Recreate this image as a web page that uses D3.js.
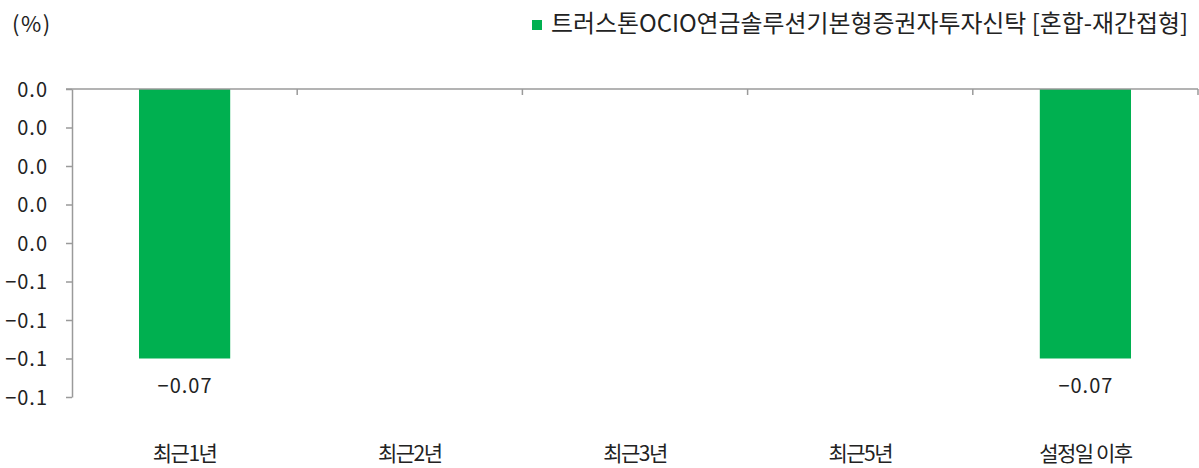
<!DOCTYPE html>
<html><head><meta charset="utf-8">
<script src="https://cdn.jsdelivr.net/npm/d3@7"></script>
<style>
html,body{margin:0;padding:0;background:#fff;}
text{font-family:"Noto Sans CJK KR","Noto Sans",sans-serif;fill:#222;}
</style></head>
<body>
<svg id="c" width="1199" height="468"></svg>
<script>
const categories = ["최근1년","최근2년","최근3년","최근5년","설정일 이후"];
const values = [-0.07, null, null, null, -0.07];
const valueLabels = ["−0.07", "", "", "", "−0.07"];
const tickValues = [0, -0.01, -0.02, -0.03, -0.04, -0.05, -0.06, -0.07, -0.08];
const tickLabels = ["0.0","0.0","0.0","0.0","0.0","−0.1","−0.1","−0.1","−0.1"];
const seriesName = "트러스톤OCIO연금솔루션기본형증권자투자신탁 [혼합-재간접형]";
const unitLabel = "(%)";

(function(){
const svg = d3.select("#c");
const mL = 72, mR = 1198, mT = 89, mB = 397;
const x = d3.scaleBand().domain(categories).range([mL, mR]).paddingInner(0).paddingOuter(0);
const y = d3.scaleLinear().domain([0, -0.08]).range([mT, mB]);
const axisColor = "#9a9a9a";
const numFont = 20, numSpacing = 1;

// bars
const barW = x.bandwidth() * 0.405;
svg.selectAll("rect.bar").data(categories.map((c,i)=>({c, v: values[i]})).filter(d=>d.v!==null))
  .enter().append("rect")
  .attr("x", d => x(d.c) + x.bandwidth()/2 - barW/2)
  .attr("y", d => y(0))
  .attr("width", barW)
  .attr("height", d => y(d.v) - y(0))
  .attr("fill", "#00B050");

// y axis
const yAxis = d3.axisLeft(y).tickValues(tickValues).tickFormat((d,i)=>tickLabels[i]).tickSize(6).tickSizeOuter(0);
const gy = svg.append("g").attr("transform", `translate(${mL},0)`).call(yAxis);
gy.attr("font-family", null).attr("font-size", null);
gy.select(".domain").attr("stroke", axisColor).attr("stroke-width", 1.5);
gy.selectAll(".tick line").attr("stroke", axisColor).attr("stroke-width", 1.5);
gy.selectAll(".tick text").attr("x", -24).attr("dy", "0.35em").attr("font-size", numFont)
  .attr("letter-spacing", numSpacing).attr("fill", "#222");

// x axis line at zero with category separators
svg.append("line").attr("x1", mL - 6).attr("x2", mR).attr("y1", y(0)).attr("y2", y(0))
  .attr("stroke", axisColor).attr("stroke-width", 1.5);
categories.forEach(c => {
  const xe = x(c) + x.bandwidth();
  svg.append("line").attr("x1", xe).attr("x2", xe).attr("y1", y(0)).attr("y2", y(0) + 6)
    .attr("stroke", axisColor).attr("stroke-width", 1.5);
});

// category labels
svg.selectAll("text.cat").data(categories).enter().append("text")
  .attr("x", d => x(d) + x.bandwidth()/2).attr("y", 461)
  .attr("text-anchor", "middle").attr("font-size", 21).attr("letter-spacing", -1.5).text(d => d);

// value labels
categories.forEach((c,i) => {
  if (values[i] === null) return;
  svg.append("text").attr("x", x(c) + x.bandwidth()/2 + numSpacing/2).attr("y", y(values[i]) + 34)
    .attr("text-anchor", "middle").attr("font-size", numFont).attr("letter-spacing", numSpacing).text(valueLabels[i]);
});

// unit
svg.append("text").attr("x", 12).attr("y", 32).attr("font-size", 22).attr("letter-spacing", 1.5).text(unitLabel);

// legend
svg.append("rect").attr("x", 532).attr("y", 20).attr("width", 10).attr("height", 10).attr("fill", "#00B050");
svg.append("text").attr("x", 551).attr("y", 32).attr("font-size", 24)
  .attr("textLength", 637).attr("lengthAdjust", "spacingAndGlyphs").text(seriesName);
})();
</script>
</body></html>
